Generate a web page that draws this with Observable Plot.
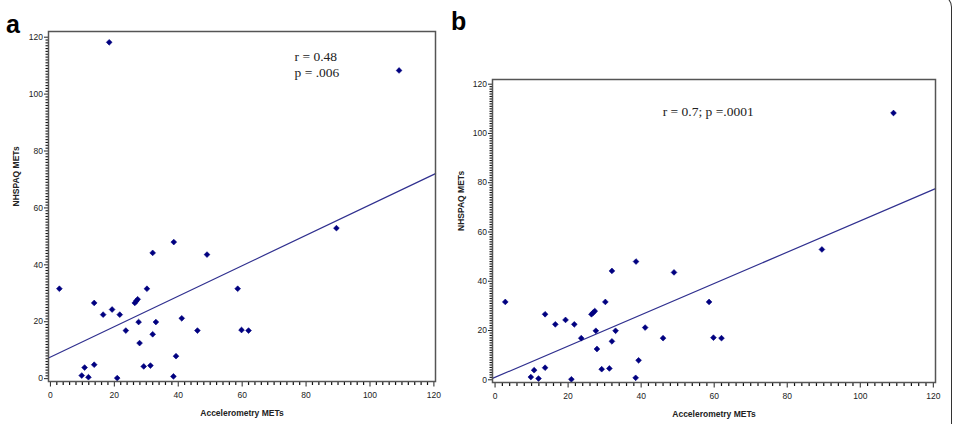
<!DOCTYPE html>
<html>
<head>
<meta charset="utf-8">
<script src="https://cdn.jsdelivr.net/npm/d3@7"></script>
<script src="https://cdn.jsdelivr.net/npm/@observablehq/plot@0.6"></script>
<style>
  body { margin: 0; background: #fff; }
  #wrap { position: relative; width: 955px; height: 424px; overflow: hidden; background: #fff; }
  .panel { position: absolute; top: 0; z-index: 1; }
  .letter { position: absolute; z-index: 2; font: bold 25px "Liberation Sans", Arial, sans-serif; color: #000; line-height: 1; }
  #border { position: absolute; z-index: 3; box-sizing: border-box; left: 400px; top: -5px; width: 552px; height: 460px;
            border: 1.5px solid #333; border-left: none; border-radius: 0 12px 0 0; pointer-events: none; }
</style>
</head>
<body>
<div id="wrap">
  <div class="panel" id="pa" style="left:0px;"></div>
  <div class="panel" id="pb" style="left:450px;"></div>
  <div class="letter" style="left:6px;top:12px;">a</div>
  <div class="letter" style="left:451px;top:9px;">b</div>
  <div id="border"></div>
</div>
<script>
// Shared observations (both panels)
const accelMETs  = [109.1, 89.5, 2.8, 13.7, 16.5, 19.3, 21.7, 23.6, 26.4, 26.9, 27.3, 27.6, 27.9, 30.2, 32.0, 32.0, 33.0,
                    29.2, 31.3, 38.6, 39.3, 38.5, 41.1, 46.0, 49.0, 58.6, 59.8, 62.0, 9.8, 10.7, 11.9, 13.7, 20.9];
const nhspaqMETs = [108.3, 52.9, 31.6, 26.6, 22.5, 24.3, 22.5, 16.9, 26.6, 27.3, 27.9, 19.9, 12.5, 31.6, 44.2, 15.6, 19.9,
                    4.3, 4.6, 48.0, 7.9, 0.8, 21.2, 16.9, 43.6, 31.6, 17.1, 16.9, 1.1, 3.9, 0.5, 4.9, 0.2];
// Outlier shown only in panel a
const outlierAccel  = [18.4];
const outlierNhspaq = [118.2];
// Fitted regression lines
const fitIntercepts = [7.6, 1.0];
const fitSlopes     = [0.535, 0.635];
// Annotations
const annotationsA = ["r = 0.48\np = .006"];
const annotationsB = ["r = 0.7; p =.0001"];
// Tick labels
const majorTicks  = [0, 20, 40, 60, 80, 100, 120];
const minorXTicks = d3.range(0, 121, 2).filter(v => v % 20 !== 0);
const minorYTicks = d3.range(0, 121, 1).filter(v => v % 20 !== 0);
const xTitle = "Accelerometry METs";
const yTitle = "NHSPAQ METs";

const pointsB = accelMETs.map((a, i) => ({accel: a, nhspaq: nhspaqMETs[i]}));
const pointsA = pointsB.concat(outlierAccel.map((a, i) => ({accel: a, nhspaq: outlierNhspaq[i]})));

const narrow = "'Liberation Sans Narrow', 'Liberation Sans', Arial, sans-serif";

function panel(o) {
  const fitLine = o.xDomain.map(x => ({accel: x, nhspaq: o.intercept + o.slope * x}));
  const frameW = o.width - o.ml - o.mr;
  const frameH = o.height - o.mt - o.mb;
  return Plot.plot({
    width: o.width, height: o.height,
    marginLeft: o.ml, marginTop: o.mt, marginRight: o.mr, marginBottom: o.mb,
    style: {fontFamily: narrow, fontSize: "8.5px", background: "transparent", color: "#333"},
    x: {domain: o.xDomain, label: null},
    y: {domain: o.yDomain, label: null},
    marks: [
      Plot.axisX(majorTicks, {anchor: "bottom", tickSize: 5.5, tickPadding: 5, label: null, color: "#222", fontSize: 8.5}),
      Plot.axisY(majorTicks, {anchor: "left", tickSize: 4, tickPadding: 1.5, label: null, color: "#222", fontSize: 8.5}),
      // minor ticks hanging outside the frame
      Plot.ruleX(minorXTicks, {x: d => d, insetTop: frameH, insetBottom: -4, stroke: "#111", strokeWidth: 1.2}),
      Plot.ruleY(minorYTicks, {y: d => d, insetLeft: -2.5, insetRight: frameW, stroke: "#111", strokeWidth: 1.1}),
      Plot.line(fitLine, {x: "accel", y: "nhspaq", stroke: "#30308f", strokeWidth: 1.2}),
      Plot.dot(o.points, {x: "accel", y: "nhspaq", symbol: "diamond2", r: 2.6, fill: "#000080", stroke: "#000080", strokeWidth: 0.6}),
      Plot.text(o.annotations, {x: o.annX, y: o.annY, textAnchor: "start", lineAnchor: "middle", lineHeight: 1.15,
                                fontFamily: "'Liberation Serif', 'Times New Roman', serif", fontSize: 13.5, fill: "#222"}),
      Plot.text([xTitle], {frameAnchor: "bottom", dy: 34, fontWeight: "bold", fontSize: 8.5, fill: "#222"}),
      Plot.text([yTitle], {frameAnchor: "left", rotate: -90, dx: o.yTitleDx, fontWeight: "bold", fontSize: 8.5, fill: "#222"}),
      Plot.frame({stroke: "#555", strokeWidth: 1.5})
    ]
  });
}

document.getElementById("pa").append(panel({
  width: 450, height: 424, ml: 48, mt: 31, mr: 15, mb: 43,
  xDomain: [-0.6, 120.5], yDomain: [-1, 122],
  points: pointsA, intercept: fitIntercepts[0], slope: fitSlopes[0],
  annotations: annotationsA, annX: 76.4, annY: 110.6, yTitleDx: -32
}));

document.getElementById("pb").append(panel({
  width: 505, height: 424, ml: 42, mt: 79, mr: 20, mb: 42,
  xDomain: [-0.7, 120.6], yDomain: [-1.1, 121.9],
  points: pointsB, intercept: fitIntercepts[1], slope: fitSlopes[1],
  annotations: annotationsB, annX: 45.9, annY: 109.3, yTitleDx: -31
}));
</script>
</body>
</html>
